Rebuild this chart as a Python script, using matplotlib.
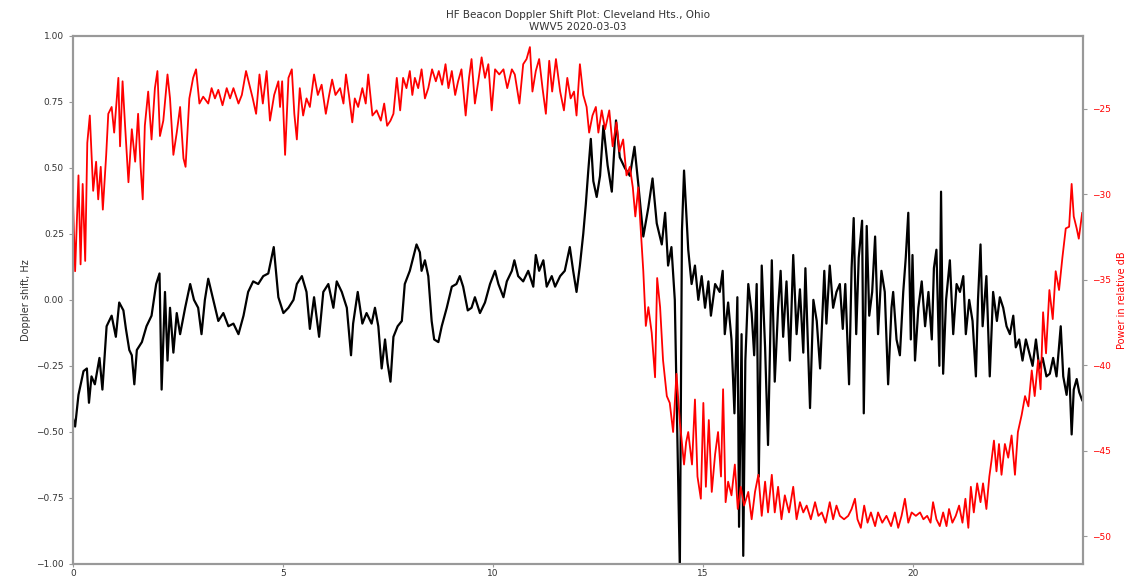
import matplotlib
matplotlib.use("Agg")
import matplotlib.pyplot as plt

# Doppler shift trace (hours UTC, Hz)
dop_hours = [
    0.00, 0.05, 0.13, 0.25, 0.33, 0.38, 0.44, 0.52, 0.63, 0.70, 0.80, 0.92, 1.02, 1.10, 1.20, 1.26,
    1.34, 1.40, 1.46, 1.52, 1.64, 1.75, 1.87, 1.98, 2.06, 2.11, 2.19, 2.25, 2.31, 2.39, 2.47, 2.55,
    2.67, 2.79, 2.88, 2.98, 3.06, 3.14, 3.22, 3.34, 3.46, 3.58, 3.70, 3.82, 3.94, 4.06, 4.17, 4.29,
    4.41, 4.53, 4.65, 4.78, 4.89, 5.01, 5.13, 5.25, 5.33, 5.45, 5.56, 5.64, 5.74, 5.86, 5.96, 6.08,
    6.20, 6.28, 6.40, 6.52, 6.62, 6.67, 6.78, 6.89, 6.99, 7.11, 7.19, 7.27, 7.35, 7.43, 7.49, 7.56,
    7.63, 7.73, 7.83, 7.90, 8.02, 8.10, 8.18, 8.26, 8.30, 8.38, 8.46, 8.54, 8.60, 8.70, 8.78, 8.90,
    9.02, 9.13, 9.21, 9.29, 9.40, 9.49, 9.57, 9.69, 9.81, 9.93, 10.05, 10.13, 10.25, 10.33, 10.45,
    10.51, 10.60, 10.72, 10.84, 10.96, 11.02, 11.10, 11.20, 11.28, 11.40, 11.48, 11.60, 11.71, 11.83,
    11.91, 11.99, 12.07, 12.15, 12.21, 12.27, 12.33, 12.39, 12.47, 12.55, 12.63, 12.73, 12.83, 12.93,
    13.02, 13.14, 13.26, 13.37, 13.46, 13.58, 13.70, 13.80, 13.90, 14.02, 14.10, 14.17, 14.25, 14.33,
    14.41, 14.45, 14.50, 14.55, 14.65, 14.73, 14.81, 14.89, 14.97, 15.05, 15.13, 15.19, 15.29, 15.40,
    15.47, 15.52, 15.60, 15.68, 15.75, 15.82, 15.86, 15.92, 15.96, 16.01, 16.08, 16.16, 16.22, 16.28,
    16.33, 16.40, 16.48, 16.55, 16.64, 16.71, 16.79, 16.85, 16.91, 16.99, 17.07, 17.15, 17.23, 17.31,
    17.39, 17.44, 17.55, 17.63, 17.71, 17.79, 17.89, 17.94, 18.02, 18.10, 18.18, 18.26, 18.33, 18.39,
    18.48, 18.54, 18.59, 18.65, 18.71, 18.79, 18.83, 18.90, 18.96, 19.03, 19.10, 19.17, 19.25, 19.33,
    19.41, 19.49, 19.53, 19.61, 19.69, 19.77, 19.83, 19.89, 19.95, 19.99, 20.05, 20.13, 20.21, 20.29,
    20.37, 20.45, 20.50, 20.56, 20.63, 20.67, 20.72, 20.79, 20.88, 20.96, 21.04, 21.12, 21.20, 21.26,
    21.34, 21.42, 21.50, 21.55, 21.61, 21.66, 21.75, 21.83, 21.91, 22.00, 22.07, 22.15, 22.23, 22.31,
    22.39, 22.45, 22.53, 22.61, 22.69, 22.77, 22.85, 22.93, 23.01, 23.09, 23.18, 23.26, 23.34, 23.42,
    23.52, 23.58, 23.66, 23.72, 23.78, 23.83, 23.90, 23.96, 24.03,
]
dop_hz = [
    -0.45, -0.48, -0.36, -0.27, -0.26, -0.39, -0.29, -0.32, -0.22, -0.34, -0.10, -0.06, -0.14, -0.01, -0.04, -0.11,
    -0.19, -0.21, -0.32, -0.19, -0.16, -0.10, -0.06, 0.06, 0.10, -0.34, 0.03, -0.23, -0.03, -0.20, -0.05, -0.13,
    -0.03, 0.06, 0.00, -0.03, -0.13, 0.00, 0.08, 0.00, -0.08, -0.05, -0.10, -0.09, -0.13, -0.06, 0.03, 0.07,
    0.06, 0.09, 0.10, 0.20, 0.01, -0.05, -0.03, 0.00, 0.06, 0.09, 0.03, -0.11, 0.01, -0.14, 0.03, 0.06,
    -0.03, 0.07, 0.03, -0.03, -0.21, -0.09, 0.03, -0.09, -0.05, -0.09, -0.03, -0.10, -0.26, -0.15, -0.24, -0.31,
    -0.14, -0.10, -0.08, 0.06, 0.11, 0.16, 0.21, 0.18, 0.11, 0.15, 0.09, -0.08, -0.15, -0.16, -0.10, -0.03,
    0.05, 0.06, 0.09, 0.05, -0.04, -0.03, 0.01, -0.05, -0.01, 0.06, 0.11, 0.06, 0.01, 0.07, 0.11,
    0.15, 0.09, 0.07, 0.11, 0.05, 0.17, 0.11, 0.15, 0.05, 0.09, 0.05, 0.09, 0.11, 0.20,
    0.11, 0.03, 0.13, 0.25, 0.36, 0.49, 0.61, 0.45, 0.39, 0.47, 0.66, 0.51, 0.41, 0.68,
    0.54, 0.50, 0.47, 0.58, 0.44, 0.24, 0.35, 0.46, 0.29, 0.21, 0.33, 0.13, 0.20, 0.00,
    -0.67, -1.02, 0.26, 0.49, 0.19, 0.06, 0.13, 0.00, 0.09, -0.03, 0.07, -0.06, 0.06, 0.03,
    0.11, -0.13, -0.01, -0.15, -0.43, 0.01, -0.86, -0.13, -0.97, -0.23, 0.06, -0.05, -0.21, 0.06,
    -0.67, 0.13, -0.18, -0.55, 0.15, -0.31, -0.03, 0.11, -0.14, 0.07, -0.23, 0.17, -0.13, 0.04,
    -0.20, 0.12, -0.41, 0.00, -0.08, -0.26, 0.11, -0.09, 0.13, -0.03, 0.03, 0.06, -0.11, 0.06,
    -0.32, 0.12, 0.31, -0.13, 0.16, 0.30, -0.43, 0.28, -0.06, 0.03, 0.24, -0.13, 0.11, 0.03,
    -0.32, -0.03, 0.03, -0.15, -0.21, 0.03, 0.16, 0.33, -0.15, 0.17, -0.23, -0.03, 0.07, -0.10,
    0.03, -0.15, 0.12, 0.19, -0.25, 0.41, -0.28, 0.00, 0.15, -0.13, 0.06, 0.03, 0.09, -0.13,
    0.00, -0.08, -0.29, 0.00, 0.21, -0.10, 0.09, -0.29, 0.03, -0.08, 0.01, -0.03, -0.10, -0.13,
    -0.06, -0.18, -0.15, -0.23, -0.15, -0.20, -0.25, -0.15, -0.26, -0.22, -0.29, -0.28, -0.22, -0.29,
    -0.10, -0.29, -0.36, -0.26, -0.51, -0.34, -0.30, -0.35, -0.38,
]

# received power trace (hours UTC, relative dB)
pwr_hours = [
    0.00, 0.05, 0.13, 0.18, 0.23, 0.29, 0.34, 0.40, 0.48, 0.55, 0.60, 0.66, 0.71, 0.79, 0.84, 0.92,
    0.98, 1.08, 1.12, 1.18, 1.24, 1.32, 1.40, 1.48, 1.55, 1.61, 1.66, 1.71, 1.79, 1.87, 1.95, 2.01,
    2.07, 2.15, 2.25, 2.31, 2.39, 2.47, 2.55, 2.63, 2.68, 2.77, 2.86, 2.93, 3.01, 3.10, 3.22, 3.30,
    3.38, 3.46, 3.56, 3.66, 3.74, 3.82, 3.94, 4.02, 4.12, 4.20, 4.28, 4.36, 4.44, 4.52, 4.61, 4.69,
    4.79, 4.89, 4.93, 4.98, 5.05, 5.13, 5.21, 5.27, 5.33, 5.40, 5.48, 5.56, 5.64, 5.74, 5.83, 5.92,
    6.02, 6.10, 6.17, 6.25, 6.36, 6.44, 6.50, 6.57, 6.65, 6.71, 6.79, 6.89, 6.97, 7.03, 7.13, 7.23,
    7.33, 7.41, 7.48, 7.56, 7.63, 7.71, 7.79, 7.86, 7.94, 8.02, 8.08, 8.14, 8.22, 8.30, 8.38, 8.46,
    8.55, 8.64, 8.71, 8.79, 8.87, 8.94, 9.02, 9.10, 9.17, 9.25, 9.35, 9.43, 9.49, 9.57, 9.65, 9.73,
    9.81, 9.89, 9.97, 10.05, 10.15, 10.25, 10.34, 10.45, 10.52, 10.63, 10.72, 10.80, 10.88, 10.94,
    11.02, 11.10, 11.18, 11.26, 11.34, 11.41, 11.50, 11.60, 11.69, 11.77, 11.85, 11.93, 11.99, 12.07,
    12.15, 12.23, 12.29, 12.37, 12.45, 12.51, 12.59, 12.67, 12.77, 12.85, 12.94, 13.01, 13.10, 13.18,
    13.26, 13.33, 13.39, 13.46, 13.51, 13.58, 13.64, 13.70, 13.78, 13.86, 13.91, 13.98, 14.05, 14.14,
    14.21, 14.29, 14.37, 14.45, 14.55, 14.60, 14.65, 14.74, 14.81, 14.87, 14.95, 15.01, 15.07, 15.14,
    15.21, 15.29, 15.36, 15.43, 15.48, 15.54, 15.60, 15.68, 15.76, 15.83, 15.90, 15.98, 16.08, 16.16,
    16.24, 16.32, 16.40, 16.48, 16.55, 16.64, 16.71, 16.79, 16.87, 16.95, 17.05, 17.15, 17.23, 17.31,
    17.39, 17.47, 17.57, 17.67, 17.75, 17.83, 17.92, 18.02, 18.10, 18.18, 18.26, 18.36, 18.46, 18.54,
    18.62, 18.68, 18.76, 18.84, 18.92, 19.00, 19.10, 19.17, 19.27, 19.37, 19.48, 19.57, 19.65, 19.73,
    19.81, 19.89, 19.97, 20.07, 20.17, 20.25, 20.34, 20.42, 20.48, 20.56, 20.64, 20.72, 20.80, 20.86,
    20.94, 21.02, 21.10, 21.18, 21.25, 21.32, 21.38, 21.45, 21.53, 21.61, 21.67, 21.75, 21.82, 21.87,
    21.93, 21.99, 22.05, 22.11, 22.19, 22.27, 22.35, 22.43, 22.50, 22.59, 22.67, 22.75, 22.83, 22.90,
    22.98, 23.04, 23.10, 23.17, 23.25, 23.33, 23.40, 23.48, 23.56, 23.64, 23.72, 23.78, 23.83, 23.90,
    23.95, 24.03,
]
pwr_db = [
    -30.5, -34.5, -28.9, -34.1, -29.4, -33.9, -27.0, -25.4, -29.8, -28.1, -30.3, -28.4, -30.9, -27.7, -25.3, -24.9,
    -26.4, -23.2, -27.2, -23.4, -26.0, -29.3, -26.2, -28.1, -25.3, -28.4, -30.3, -26.0, -24.0, -26.8, -23.8, -22.8,
    -26.6, -25.7, -23.0, -24.4, -27.7, -26.4, -24.9, -27.9, -28.4, -24.4, -23.2, -22.7, -24.7, -24.3, -24.7, -23.8,
    -24.4, -23.9, -24.8, -23.8, -24.4, -23.8, -24.7, -24.2, -22.8, -23.6, -24.4, -25.3, -23.0, -24.7, -22.8, -25.7,
    -24.2, -23.4, -24.9, -23.4, -27.7, -23.2, -22.7, -25.3, -26.8, -23.8, -25.4, -24.4, -24.9, -23.0, -24.2, -23.6,
    -25.3, -24.2, -23.3, -24.2, -23.8, -24.7, -23.0, -24.2, -25.8, -24.4, -24.9, -23.8, -24.7, -23.0, -25.4, -25.1,
    -25.7, -24.7, -26.0, -25.7, -25.3, -23.2, -25.1, -23.2, -23.8, -22.8, -24.2, -23.2, -23.8, -22.7, -24.4, -23.8,
    -22.7, -23.4, -22.8, -23.6, -22.4, -23.8, -22.8, -24.2, -23.4, -22.7, -25.4, -23.2, -22.1, -24.7, -23.4, -22.0,
    -23.2, -22.4, -25.1, -22.7, -23.0, -22.7, -23.8, -22.7, -23.0, -24.7, -22.4, -22.1, -21.4, -24.0,
    -22.8, -22.1, -23.8, -25.3, -22.2, -24.0, -22.1, -24.0, -25.1, -23.2, -24.4, -24.0, -25.4, -22.4,
    -24.2, -24.9, -26.4, -25.4, -24.9, -26.4, -25.1, -26.2, -25.1, -27.2, -25.8, -27.5, -26.8, -28.9,
    -28.4, -29.6, -31.3, -29.6, -31.7, -34.5, -37.7, -36.6, -38.1, -40.7, -34.9, -36.6, -39.7, -41.8,
    -42.2, -43.9, -40.5, -43.3, -45.8, -44.5, -43.9, -45.8, -42.0, -46.5, -47.8, -42.2, -47.1, -43.2,
    -47.4, -45.2, -43.9, -46.5, -41.4, -48.0, -46.8, -47.6, -45.8, -48.4, -47.1, -48.2, -47.4, -49.0,
    -47.4, -46.4, -48.8, -46.8, -48.6, -46.4, -48.6, -47.1, -49.0, -47.6, -48.6, -47.1, -49.0, -48.0,
    -48.6, -48.2, -49.0, -48.0, -48.8, -48.6, -49.2, -48.0, -49.0, -48.2, -48.8, -49.0, -48.8, -48.4,
    -47.8, -49.0, -49.5, -48.2, -49.2, -48.6, -49.4, -48.6, -49.2, -48.8, -49.4, -48.6, -49.5, -48.8,
    -47.8, -49.2, -48.6, -48.8, -48.6, -49.0, -48.8, -49.2, -48.0, -49.0, -49.4, -48.6, -49.4, -48.4,
    -49.2, -48.8, -48.2, -49.2, -47.8, -49.5, -47.1, -48.6, -46.9, -48.0, -46.9, -48.4, -46.5, -45.6,
    -44.4, -46.2, -44.6, -46.4, -44.6, -45.4, -44.1, -46.4, -43.9, -42.9, -41.8, -42.4, -40.3, -41.8,
    -39.7, -41.4, -36.9, -39.3, -35.6, -37.3, -34.5, -35.6, -33.7, -32.0, -31.9, -29.4, -31.3, -32.0,
    -32.6, -31.1,
]

fig = plt.figure(figsize=(11.32, 5.8), dpi=100)
ax = fig.add_axes([0.0645, 0.028, 0.8922, 0.91])
ax2 = ax.twinx()

ax.plot(dop_hours, dop_hz, color='black', linewidth=1.6)
ax2.plot(pwr_hours, pwr_db, color='red', linewidth=1.3)

ax.set_xlim(0, 24.05)
ax.set_ylim(-1.0, 1.0)
ax2.set_ylim(-51.6, -20.75)
ax.set_xticks([0, 5, 10, 15, 20])
ax.set_yticks([-1.0, -0.75, -0.5, -0.25, 0.0, 0.25, 0.5, 0.75, 1.0])
ax2.set_yticks([-50, -45, -40, -35, -30, -25])

ax.set_ylabel('Doppler shift, Hz', fontsize=7, color='#333333')
ax2.set_ylabel('Power in relative dB', fontsize=7, color='red')
ax.set_title('HF Beacon Doppler Shift Plot: Cleveland Hts., Ohio\nWWV5 2020-03-03',
             fontsize=7.5, color='#333333', linespacing=1.25, pad=4)

for a in (ax, ax2):
    for s in a.spines.values():
        s.set_color('#999999')
        s.set_linewidth(1.5)
ax.tick_params(labelsize=6.5, colors='#333333', length=3, color='#999999')
ax.tick_params(axis='x', pad=1.5, length=2.5)
ax2.tick_params(axis='y', labelsize=6.5, colors='red', length=3, color='#999999')

fig.savefig('out.png', dpi=100)
